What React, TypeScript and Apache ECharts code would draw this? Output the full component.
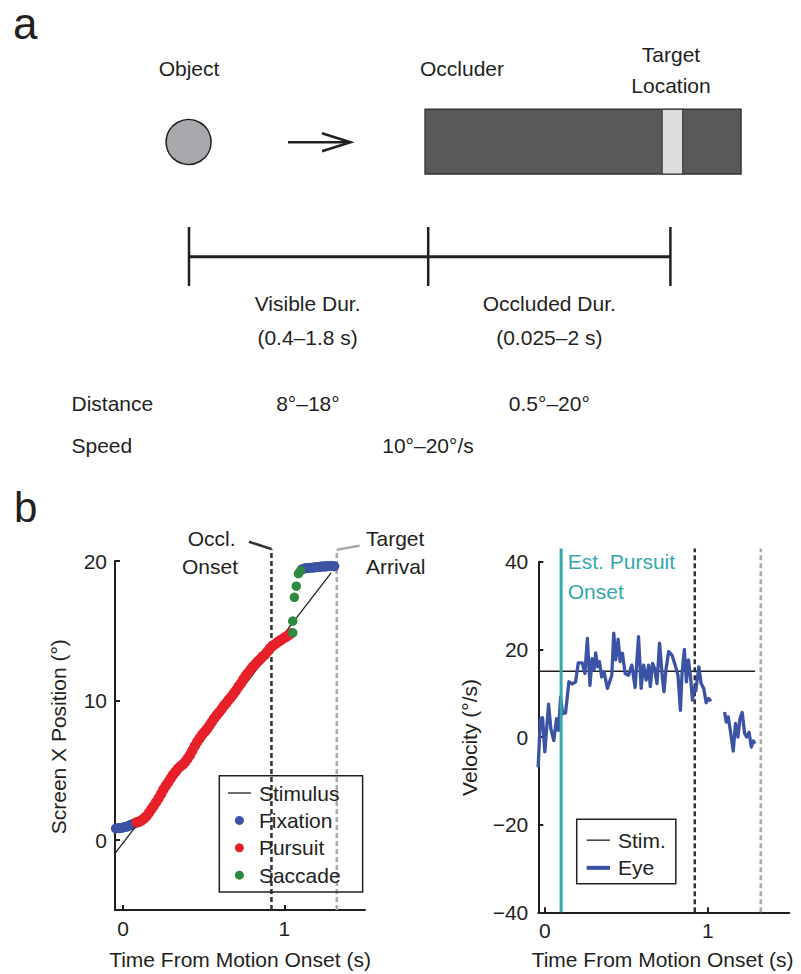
import React, { useEffect, useRef } from 'react';
import * as echarts from 'echarts';

const FONT = "'Liberation Sans', Arial, Helvetica, sans-serif";
const INK = '#231f20';
const BLUE = '#3c52a4';
const RED = '#e8202a';
const GREEN = '#2e8a3e';
const TEAL = '#36a8ab';
const GREY = '#a7a9ac';

// ---- Panel b, left: screen position ----
const stimTime = [-0.05, 1.29];
const stimPos = [-0.95, 19.15];
const fixTimeA = [-0.045, -0.035, -0.025, -0.015, -0.005, 0.005, 0.015, 0.025, 0.035, 0.045, 0.055, 0.065, 0.075];
const fixPosA = [0.84, 0.86, 0.86, 0.88, 0.9, 0.93, 0.95, 0.99, 1.03, 1.08, 1.13, 1.18, 1.22];
const pursuitTime = [0.085, 0.1, 0.115, 0.13, 0.145, 0.16, 0.175, 0.19, 0.205, 0.22, 0.235, 0.25, 0.265, 0.28, 0.295, 0.31, 0.325, 0.34, 0.355, 0.37, 0.385, 0.4, 0.415, 0.43, 0.445, 0.46, 0.475, 0.49, 0.505, 0.52, 0.535, 0.55, 0.565, 0.58, 0.595, 0.61, 0.625, 0.64, 0.655, 0.67, 0.685, 0.7, 0.715, 0.73, 0.745, 0.76, 0.775, 0.79, 0.805, 0.82, 0.835, 0.85, 0.865, 0.88, 0.895, 0.91, 0.925, 0.94, 0.955, 0.97, 0.985, 1.0, 1.015, 1.03, 1.042];
const pursuitPos = [1.28, 1.33, 1.42, 1.55, 1.72, 1.95, 2.2, 2.45, 2.72, 3.0, 3.3, 3.62, 3.9, 4.15, 4.42, 4.68, 4.9, 5.12, 5.28, 5.42, 5.6, 5.85, 6.1, 6.42, 6.75, 7.05, 7.3, 7.55, 7.75, 7.95, 8.2, 8.45, 8.72, 8.95, 9.15, 9.38, 9.62, 9.82, 10.05, 10.25, 10.48, 10.72, 10.98, 11.22, 11.5, 11.78, 11.98, 12.2, 12.42, 12.6, 12.8, 12.95, 13.15, 13.3, 13.5, 13.72, 13.9, 14.02, 14.15, 14.28, 14.38, 14.5, 14.6, 14.72, 14.82];
const saccadeTime = [1.052, 1.052, 1.062, 1.074, 1.087, 1.1];
const saccadePos = [14.86, 15.7, 17.4, 18.2, 19.1, 19.3];
const fixTimeB = [1.11, 1.12, 1.13, 1.14, 1.15, 1.16, 1.17, 1.18, 1.19, 1.2, 1.21, 1.22, 1.23, 1.24, 1.25, 1.26, 1.27, 1.28, 1.29, 1.3, 1.31];
const fixPosB = [19.4, 19.45, 19.48, 19.5, 19.5, 19.52, 19.52, 19.53, 19.55, 19.55, 19.57, 19.58, 19.6, 19.62, 19.6, 19.62, 19.65, 19.65, 19.66, 19.65, 19.62];
const posTicks = [0, 10, 20];
const timeTicks = [0, 1];
const occlOnset = 0.92;
const targetArrival = 1.325;

// ---- Panel b, right: velocity ----
const stimVelTime = [-0.04, 1.29];
const stimVel = [15, 15];
const eyeTimeA = [-0.041, -0.027, -0.014, 0.0, 0.023, 0.037, 0.055, 0.072, 0.084, 0.097, 0.109, 0.127, 0.148, 0.168, 0.189, 0.205, 0.23, 0.246, 0.261, 0.277, 0.29, 0.302, 0.312, 0.324, 0.335, 0.349, 0.363, 0.384, 0.411, 0.423, 0.435, 0.45, 0.462, 0.476, 0.493, 0.513, 0.534, 0.554, 0.575, 0.591, 0.606, 0.622, 0.637, 0.647, 0.661, 0.674, 0.688, 0.704, 0.721, 0.731, 0.743, 0.76, 0.78, 0.8, 0.817, 0.832, 0.842, 0.856, 0.869, 0.881, 0.893, 0.906, 0.914, 0.926, 0.945, 0.959, 0.975, 0.99, 1.004, 1.02];
const eyeVelA = [-6.9, 4.2, 4.4, -3.4, 7.5, 1.9, -0.8, 4.2, 1.5, 9.2, 5.3, 5.5, 12.6, 12.1, 12.6, 16.9, 16.9, 14.5, 22.5, 11.8, 17.9, 15.3, 19.2, 16, 17.2, 13.7, 14.9, 11.1, 14.1, 23.7, 17.6, 22.3, 17.2, 19.1, 14.5, 14.1, 16.4, 11.3, 22.9, 11.1, 16.4, 13, 16.4, 11.5, 16.8, 15.6, 12.2, 21.4, 13.7, 10.3, 15.3, 19.5, 18.7, 16.4, 14.1, 6.1, 14.5, 20, 12.6, 17.6, 14.1, 8.4, 11.1, 10.5, 16, 12.2, 11.1, 7.8, 8.8, 8.2];
const eyeTimeB = [1.103, 1.113, 1.125, 1.14, 1.156, 1.17, 1.185, 1.197, 1.211, 1.226, 1.238, 1.253, 1.267, 1.279, 1.29];
const eyeVelB = [5.7, 3.4, 4.6, 1.1, -3.2, 3.1, 0, 4.2, 5.6, 0.8, 0, 1.1, -2.3, -0.9, -1.5];
const pursuitOnsetEst = 0.1;

const zip = (xs: number[], ys: number[]) => xs.map((x, i) => [x, ys[i]]);
const minus = (v: number) => (v < 0 ? '\u2212' + Math.abs(v) : String(v));

function txt(text: string, x: number, y: number, o: any = {}) {
  return {
    type: 'text',
    x,
    y,
    rotation: o.rotation || 0,
    style: {
      text,
      fill: o.fill || INK,
      font: `${o.weight || 'normal'} ${o.size || 21}px ${FONT}`,
      textAlign: o.align || 'center',
      textVerticalAlign: 'middle',
    },
  };
}

function line(x1: number, y1: number, x2: number, y2: number, w = 2.5) {
  return { type: 'line', shape: { x1, y1, x2, y2 }, style: { stroke: INK, lineWidth: w } };
}

function axisX(grid: number, min: number) {
  return {
    type: 'value', gridIndex: grid, min, max: 1.5,
    axisLine: { show: true, onZero: false, lineStyle: { color: INK, width: 2 } },
    axisTick: { show: true, inside: true, length: 5, customValues: timeTicks, lineStyle: { color: INK, width: 2 } },
    axisLabel: { customValues: timeTicks, margin: 8, fontSize: 21, fontFamily: FONT, color: INK },
    splitLine: { show: false },
  };
}

const THIN_ICON = 'path://M0,0H230V13H0Z';
const THICK_ICON = 'path://M0,0H230V40H0Z';

export default function App() {
  const ref = useRef<HTMLDivElement>(null);
  useEffect(() => {
    if (!ref.current) return;
    const chart = echarts.init(ref.current, null, { renderer: 'svg' });
    const vseries = (name: string, xi: number, data: number[][], color: string, width: number, type: any, z = 1) => ({
      type: 'line', name, xAxisIndex: xi, yAxisIndex: xi, data, symbol: 'none', clip: false, silent: true,
      lineStyle: { color, width, type, cap: 'butt' }, z,
    });
    const option: any = {
      animation: false,
      backgroundColor: '#ffffff',
      grid: [
        { left: 115, top: 561, width: 250, height: 349, containLabel: false, outerBoundsMode: 'none' },
        { left: 538.3, top: 561.7, width: 251, height: 350.6, containLabel: false, outerBoundsMode: 'none' },
      ],
      xAxis: [axisX(0, -0.05), axisX(1, -0.04)],
      yAxis: [
        {
          type: 'value', gridIndex: 0, min: -5, max: 20,
          axisLine: { show: true, onZero: false, lineStyle: { color: INK, width: 2 } },
          axisTick: { show: true, inside: true, length: 5, customValues: posTicks, lineStyle: { color: INK, width: 2 } },
          axisLabel: { customValues: posTicks, margin: 8, fontSize: 21, fontFamily: FONT, color: INK },
          splitLine: { show: false },
        },
        {
          type: 'value', gridIndex: 1, min: -40, max: 40, interval: 20,
          axisLine: { show: true, onZero: false, lineStyle: { color: INK, width: 2 } },
          axisTick: { show: true, inside: true, length: 5, lineStyle: { color: INK, width: 2 } },
          axisLabel: { margin: 10, fontSize: 21, fontFamily: FONT, color: INK, formatter: minus },
          splitLine: { show: false },
        },
      ],
      legend: [
        {
          data: [{ name: 'Stimulus', icon: THIN_ICON }, { name: 'Fixation', icon: 'circle' }, { name: 'Pursuit', icon: 'circle' }, { name: 'Saccade', icon: 'circle' }],
          orient: 'vertical', left: 219.3, top: 775.7, padding: [5.6, 22, 5, 8.6],
          itemWidth: 23, itemHeight: 9, itemGap: 4, selectedMode: false,
          borderColor: INK, borderWidth: 1.5,
          textStyle: { fontSize: 21, fontFamily: FONT, color: INK, lineHeight: 23.4, padding: [0, 0, 0, 3] },
        },
        {
          data: [{ name: 'Stim.', icon: THIN_ICON }, { name: 'Eye', icon: THICK_ICON }],
          orient: 'vertical', left: 576.7, top: 819.3, padding: [9, 10, 4, 10],
          itemWidth: 23.3, itemHeight: 9, itemGap: 4, selectedMode: false,
          borderColor: INK, borderWidth: 1.5,
          textStyle: { fontSize: 21, fontFamily: FONT, color: INK, lineHeight: 23.7, padding: [0, 0, 0, 3] },
        },
      ],
      series: [
        // left plot
        vseries('occlLine', 0, [[occlOnset, -5], [occlOnset, 20.86]], '#333333', 2.5, [5, 3], 1),
        vseries('occlLeader', 0, [[0.78, 21.38], [occlOnset, 20.86]], '#333333', 2.5, 'solid', 1),
        vseries('arrivalLine', 0, [[targetArrival, -5], [targetArrival, 20.8]], GREY, 2.5, [5, 3], 1),
        vseries('arrivalLeader', 0, [[targetArrival, 20.8], [1.467, 21.1]], GREY, 2.5, 'solid', 1),
        {
          type: 'scatter', name: 'Fixation', xAxisIndex: 0, yAxisIndex: 0, data: zip(fixTimeA, fixPosA),
          symbolSize: 10, itemStyle: { color: BLUE, opacity: 1 }, z: 2, silent: true,
        },
        {
          type: 'line', name: 'Stimulus', xAxisIndex: 0, yAxisIndex: 0, data: zip(stimTime, stimPos),
          symbol: 'none', lineStyle: { color: INK, width: 1.3 }, itemStyle: { color: INK }, z: 3, silent: true,
        },
        {
          type: 'scatter', name: 'Pursuit', xAxisIndex: 0, yAxisIndex: 0, data: zip(pursuitTime, pursuitPos),
          symbolSize: 10.5, itemStyle: { color: RED, opacity: 1 }, z: 4, silent: true,
        },
        {
          type: 'scatter', name: 'Saccade', xAxisIndex: 0, yAxisIndex: 0, data: zip(saccadeTime, saccadePos),
          symbolSize: 9.5, itemStyle: { color: GREEN, opacity: 1 }, z: 4, silent: true,
        },
        {
          type: 'scatter', name: 'Fixation', xAxisIndex: 0, yAxisIndex: 0, data: zip(fixTimeB, fixPosB),
          symbolSize: 10, itemStyle: { color: BLUE, opacity: 1 }, z: 2, silent: true,
        },
        // right plot
        vseries('onsetLine', 1, [[pursuitOnsetEst, -40], [pursuitOnsetEst, 43]], TEAL, 3, 'solid', 5),
        vseries('occlLine2', 1, [[occlOnset, -40], [occlOnset, 43]], '#333333', 2.5, [5, 3], 1),
        vseries('arrivalLine2', 1, [[targetArrival, -40], [targetArrival, 43]], GREY, 2.5, [5, 3], 1),
        {
          type: 'line', name: 'Stim.', xAxisIndex: 1, yAxisIndex: 1, data: zip(stimVelTime, stimVel),
          symbol: 'none', lineStyle: { color: INK, width: 1.3 }, itemStyle: { color: INK }, z: 3, silent: true,
        },
        {
          type: 'line', name: 'Eye', xAxisIndex: 1, yAxisIndex: 1, data: zip(eyeTimeA, eyeVelA),
          symbol: 'none', lineStyle: { color: BLUE, width: 3.3, join: 'round' }, itemStyle: { color: BLUE }, z: 4, silent: true,
        },
        {
          type: 'line', name: 'Eye', xAxisIndex: 1, yAxisIndex: 1, data: zip(eyeTimeB, eyeVelB),
          symbol: 'none', lineStyle: { color: BLUE, width: 3.3, join: 'round' }, itemStyle: { color: BLUE }, z: 4, silent: true,
        },
      ],
      graphic: [
        // panel a
        txt('a', 13, 23, { size: 44, align: 'left' }),
        txt('Object', 189, 68),
        txt('Occluder', 462, 68),
        txt('Target', 671, 54.5),
        txt('Location', 671, 85),
        { type: 'circle', shape: { cx: 188.6, cy: 142, r: 22.5 }, style: { fill: '#a7a9ac', stroke: INK, lineWidth: 1.5 } },
        line(288, 142.3, 349, 142.3, 2.5),
        { type: 'polyline', shape: { points: [[322, 133.3], [350.5, 142.3], [322, 151.3]] }, style: { stroke: INK, lineWidth: 2.5, fill: null } },
        { type: 'rect', shape: { x: 425.1, y: 109.3, width: 315.9, height: 64.7 }, style: { fill: '#58595b', stroke: '#333333', lineWidth: 1.5 } },
        { type: 'rect', shape: { x: 662.2, y: 109.3, width: 20.5, height: 64.7 }, style: { fill: '#dcddde', stroke: '#333333', lineWidth: 1 } },
        line(189, 256.7, 670.4, 256.7, 3),
        line(189, 227, 189, 286, 2.5),
        line(428.2, 227, 428.2, 286, 2.5),
        line(670.4, 227, 670.4, 286, 2.5),
        txt('Visible Dur.', 307.6, 303),
        txt('(0.4\u20131.8 s)', 307.6, 337),
        txt('Occluded Dur.', 549.3, 303),
        txt('(0.025\u20132 s)', 549.3, 337),
        txt('Distance', 71.5, 403, { align: 'left' }),
        txt('8\u00b0\u201318\u00b0', 307.9, 403),
        txt('0.5\u00b0\u201320\u00b0', 549.3, 403),
        txt('Speed', 71.5, 445, { align: 'left' }),
        txt('10\u00b0\u201320\u00b0/s', 428, 445),
        // panel b
        txt('b', 14, 507, { size: 42, align: 'left' }),
        txt('Occl.', 211.7, 538),
        txt('Onset', 210, 566.7),
        txt('Target', 366, 538, { align: 'left' }),
        txt('Arrival', 366, 566, { align: 'left' }),
        txt('Screen X Position (\u00b0)', 58.3, 736.7, { rotation: Math.PI / 2 }),
        txt('Time From Motion Onset (s)', 240, 959),
        txt('Est. Pursuit', 567.7, 561, { align: 'left', fill: TEAL }),
        txt('Onset', 567.7, 591, { align: 'left', fill: TEAL }),
        txt('Velocity (\u00b0/s)', 469, 737.5, { rotation: Math.PI / 2 }),
        txt('Time From Motion Onset (s)', 662.5, 959),
      ],
    };
    chart.setOption(option);
    return () => chart.dispose();
  }, []);
  return <div ref={ref} style={{ position: 'absolute', left: 0, top: 0, width: 801, height: 974 }} />;
}
